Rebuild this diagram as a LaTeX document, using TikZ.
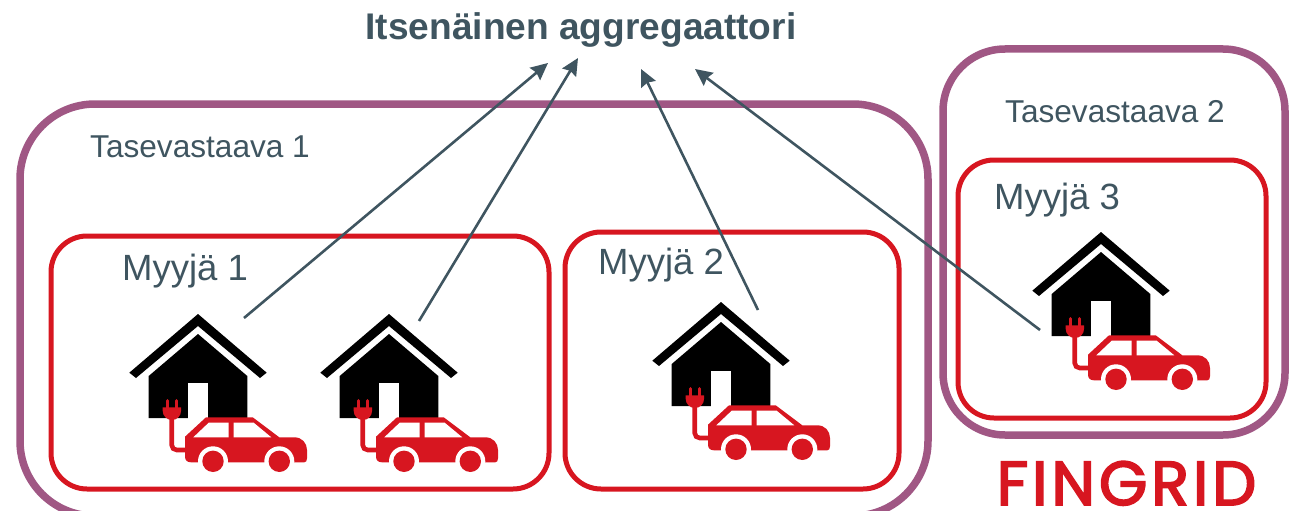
\documentclass[tikz,border=0pt]{standalone}
\usepackage{fontspec}
\setmainfont{Liberation Sans}
\newfontfamily\logofont[LetterSpace=6.5,FakeBold=3]{Poppins}
\usetikzlibrary{arrows.meta}
\definecolor{slate}{HTML}{3F5560}
\definecolor{fgred}{HTML}{D71620}
\definecolor{plum}{HTML}{A05784}
\tikzset{
  tasebox/.style={draw=plum,line width=7.5pt,rounded corners=75pt},
  myyjabox/.style={draw=fgred,line width=5pt,rounded corners=36pt},
  flow/.style={draw=slate,line width=2.6pt,-{Stealth[length=17pt,width=16pt,inset=2pt]}},
  tase/.style={text=slate,font=\fontsize{31.6}{31.6}\selectfont},
  myyja/.style={text=slate,font=\fontsize{36.5}{36.5}\selectfont},
  home/.pic={
    % roof and walls
    \fill[black](0,0)--(68.7,58.7)--(62,64)--(0,12)--(-62,64)--(-68.7,58.7)--cycle;
    \fill[black](0,20)--(49.3,62)--(49.3,104)--(-49.3,104)--(-49.3,62)--cycle;
    \fill[white](-10,68.7)rectangle(10,105);
    % car
    \fill[fgred](-13,142.7)--(-13,122.7)--(8,103.3)--(54.7,103.3)--(81.3,123.3)--(96.3,123.3)
      ..controls(104,123.3)and(109,129)..(109,136)--(109,144.3)..controls(109,147)and(108,148.3)..(106.3,148.3)
      --(-7,148.3)..controls(-11,148.3)and(-13,146)..(-13,142.7)--cycle;
    \fill[white](-4.7,123.3)--(10.7,108.7)--(30.7,108.7)--(30.7,123.3)--cycle;
    \fill[white](35.7,108.7)--(55.7,108.7)--(73.3,123.3)--(35.7,123.3)--cycle;
    \foreach \wx in {15,81.3}{
      \fill[white](\wx,147.3)circle(15);
      \fill[fgred](\wx,147.3)circle(10.7);
    }
    % plug
    \draw[fgred,line width=4.6pt,rounded corners=5pt](-26.3,100)--(-26.3,136)--(-12,136);
    \fill[fgred](-35.3,93.3)--(-17,93.3)--(-17,97)..controls(-17,102)and(-21,106)..(-26.2,106)
      ..controls(-31,106)and(-35.3,102)..(-35.3,97)--cycle;
    \draw[fgred,line width=3pt,line cap=round](-30.3,86.5)--(-30.3,94)(-22,86.5)--(-22,94);
  }
}
\begin{document}
\begin{tikzpicture}[x=1pt,y=-1pt]
\useasboundingbox(0,0)rectangle(1296,511);
\draw[tasebox](20,104)rectangle(928,516);
\draw[tasebox,rounded corners=62pt](943,49)rectangle(1285,435);
\draw[myyjabox](51,236)rectangle(549,489);
\draw[myyjabox](565,232)rectangle(899,489);
\draw[myyjabox](958,160)rectangle(1266,418);
\pic at(198,314){home};
\pic at(389,314){home};
\pic at(721,302){home};
\pic at(1101,232){home};
\node[text=slate,font=\fontsize{37.1}{37.1}\selectfont\bfseries](aggr)at(581,30){Itsenäinen aggregaattori};
\node[tase](tase1)at(200,147){Tasevastaava 1};
\node[tase](tase2)at(1115,112){Tasevastaava 2};
\node[myyja](myyja1)at(185,271){Myyjä 1};
\node[myyja](myyja2)at(661,265){Myyjä 2};
\node[myyja](myyja3)at(1057,200){Myyjä 3};
\node[text=fgred,font=\logofont\fontsize{62}{62}\selectfont,inner sep=0pt,text height=43pt,text depth=0pt](logo)at(1126.5,483.5){FINGRID};
\coordinate(from1)at(244,318);\coordinate(to1)at(548,63);
\coordinate(from2)at(419,321);\coordinate(to2)at(578,58);
\coordinate(from3)at(758,310);\coordinate(to3)at(641,69);
\coordinate(from4)at(1040,330);\coordinate(to4)at(695,69);
\draw[flow](from1)--(to1);
\draw[flow](from2)--(to2);
\draw[flow](from3)--(to3);
\draw[flow](from4)--(to4);
\end{tikzpicture}
\end{document}
